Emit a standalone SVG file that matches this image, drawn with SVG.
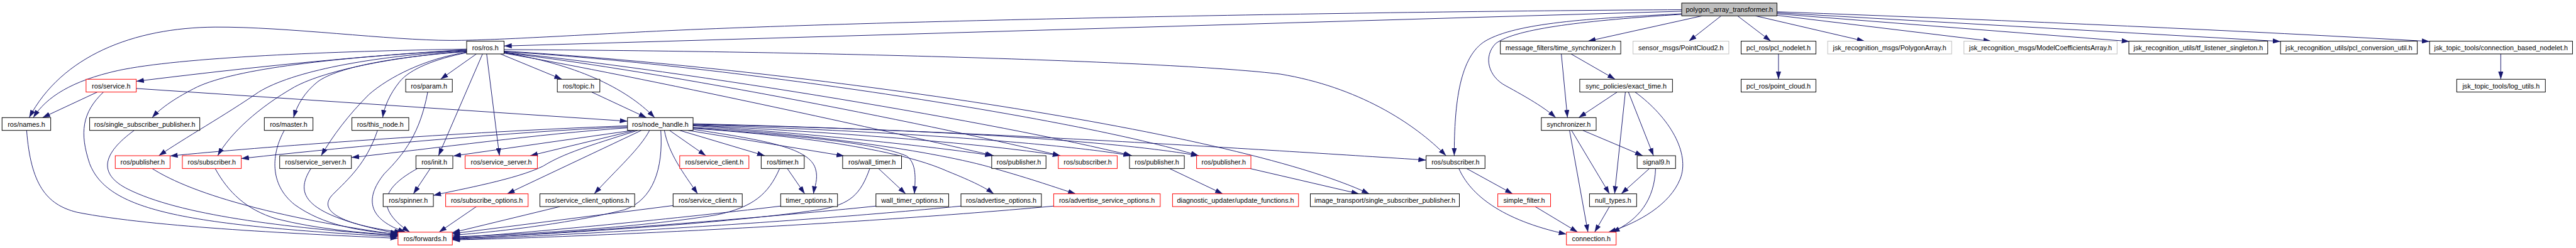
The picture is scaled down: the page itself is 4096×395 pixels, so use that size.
<svg xmlns="http://www.w3.org/2000/svg" width="4096" height="395" viewBox="0 0 4096 395">
<style>
.e{fill:none;stroke:#191970;stroke-width:1.2;marker-end:url(#ah)}
.nb rect{fill:#fff;stroke:#000;stroke-width:1.2}
.nr rect{fill:#fff;stroke:#f00;stroke-width:1.2}
.ng rect{fill:#fff;stroke:#bfbfbf;stroke-width:1.2}
.nm rect{fill:#bfbfbf;stroke:#000;stroke-width:1.2}
text{font-family:"Liberation Sans",Arial,sans-serif;font-size:13.3px;text-anchor:middle;fill:#000}
</style>
<defs>
<marker id="ah" markerUnits="userSpaceOnUse" markerWidth="15" markerHeight="10" refX="15" refY="5" orient="auto"><path d="M0,0 L15,5 L0,10 z" fill="#191970"/></marker>
</defs>
<rect width="4096" height="395" fill="#fff"/>
<g transform="scale(0.8145)">
<g id="edges">
<path class="e" d="M3283,19 C2700,22 1700,40 1260,62 C1050,73 950,79 880,79 C760,79 560,52 420,53 C260,54 120,110 57,230"/>
<path class="e" d="M3283,22 L984,90"/>
<path class="e" d="M3323,31 L3100,80.5"/>
<path class="e" d="M3360,31 L3297,80.5"/>
<path class="e" d="M3392,31 L3457,80.5"/>
<path class="e" d="M3427,31 L3640,80.5"/>
<path class="e" d="M3469,30 L3887,80.5"/>
<path class="e" d="M3469,27 L4157,81"/>
<path class="e" d="M3469,25 L4452,81"/>
<path class="e" d="M3469,23 Q4200,50 4743,81"/>
<path class="e" d="M3283,27 C3100,36 2960,45 2900,80 C2850,110 2839,200 2839,304.5"/>
<path class="e" d="M3283,28 C3100,40 2960,55 2920,85 C2895,110 2905,150 2940,168 C2980,190 3015,210 3037,230"/>
<path class="e" d="M3048,105.5 L3060,230"/>
<path class="e" d="M3067,105.5 L3153,155"/>
<path class="e" d="M3157,180 L3082,230"/>
<path class="e" d="M3173,180 L3152,379"/>
<path class="e" d="M3179,180 L3228,304.5"/>
<path class="e" d="M3192,180 C3260,230 3300,300 3280,350 C3260,400 3200,435 3140,454"/>
<path class="e" d="M3064,255 L3100,454"/>
<path class="e" d="M3068,255 L3142,379"/>
<path class="e" d="M3090,255 L3207,304.5"/>
<path class="e" d="M3220,329.5 L3165,379"/>
<path class="e" d="M3232,329.5 C3230,390 3200,430 3147,454"/>
<path class="e" d="M3142,404 L3113,454"/>
<path class="e" d="M2997,404 L3080,454"/>
<path class="e" d="M2863,329.5 L2953,379"/>
<path class="e" d="M2848,329.5 C2870,380 2930,430 3058,458"/>
<path class="e" d="M3472,105.5 L3472,155"/>
<path class="e" d="M4882,105.5 L4882,155"/>
<path class="e" d="M911,96 C650,100 350,112 230,138 C140,158 90,190 65,230"/>
<path class="e" d="M911,97 C700,110 500,130 266,159"/>
<path class="e" d="M911,98 C650,112 460,135 385,170 C345,190 315,210 297,230"/>
<path class="e" d="M911,99 C720,110 570,140 505,180 C440,225 360,270 310,304.5"/>
<path class="e" d="M911,100 C780,110 640,135 575,170 C505,210 450,260 425,304.5"/>
<path class="e" d="M911,101 C780,110 660,130 620,160 C595,180 580,205 573,230"/>
<path class="e" d="M911,102 C830,115 760,150 720,185 C680,225 650,265 627,304.5"/>
<path class="e" d="M911,103 C850,115 800,135 780,160 C760,185 750,210 747,230"/>
<path class="e" d="M930,105.5 L860,155"/>
<path class="e" d="M942,105.5 L856,304.5"/>
<path class="e" d="M950,105.5 L975,304.5"/>
<path class="e" d="M977,105.5 L1097,155"/>
<path class="e" d="M984,103 C1120,125 1220,170 1278,230"/>
<path class="e" d="M1155,180 L1262,230"/>
<path class="e" d="M984,97 C1600,100 2300,120 2500,145 C2650,170 2760,240 2823,304.5"/>
<path class="e" d="M984,100 C1500,130 2400,250 2673,379"/>
<path class="e" d="M984,101 C1400,125 2100,230 2340,304.5"/>
<path class="e" d="M984,102 C1350,140 1950,240 2210,304.5"/>
<path class="e" d="M984,103 C1300,140 1850,250 2070,304.5"/>
<path class="e" d="M984,104 C1250,150 1750,260 1940,304.5"/>
<path class="e" d="M1225,246 C900,258 500,288 332,305"/>
<path class="e" d="M1225,248 C1000,258 700,285 471,310"/>
<path class="e" d="M1225,250 C1050,262 850,290 686,308"/>
<path class="e" d="M1235,255 L885,305"/>
<path class="e" d="M1240,255 L1035,304.5"/>
<path class="e" d="M1245,255 C1150,285 1100,300 1060,325 C1010,350 900,370 846,382"/>
<path class="e" d="M1252,255 L990,379"/>
<path class="e" d="M1268,255 C1250,290 1205,330 1160,379"/>
<path class="e" d="M1290,255 C1295,330 1275,390 1220,410 C1100,440 950,455 883,460"/>
<path class="e" d="M1307,255 L1378,304.5"/>
<path class="e" d="M1297,255 C1305,300 1335,340 1362,379"/>
<path class="e" d="M1327,255 L1493,304.5"/>
<path class="e" d="M1343,255 L1648,305"/>
<path class="e" d="M1353,253 C1500,275 1580,290 1592,330 C1598,350 1590,365 1588,379"/>
<path class="e" d="M1353,250 C1500,262 1700,275 1770,305 C1790,320 1787,350 1785,379"/>
<path class="e" d="M1353,251 C1550,265 1750,290 1850,335 C1900,355 1925,368 1940,379"/>
<path class="e" d="M1353,249 C1600,262 1850,300 1950,332 C2030,355 2070,370 2100,379"/>
<path class="e" d="M1353,246 C1600,262 1850,290 1938,304.5"/>
<path class="e" d="M1353,245 C1700,262 1950,285 2070,304.5"/>
<path class="e" d="M1353,244 C1800,258 2100,285 2208,304.5"/>
<path class="e" d="M1353,243 C1900,255 2200,280 2340,304.5"/>
<path class="e" d="M1353,242 C1900,255 2500,295 2784,313"/>
<path class="e" d="M266,173 L1225,237"/>
<path class="e" d="M190,180 L83,230"/>
<path class="e" d="M202,180 C160,220 155,260 175,320 C210,410 350,440 777,463"/>
<path class="e" d="M52,255 C60,360 90,400 150,415 C300,445 600,458 777,466"/>
<path class="e" d="M262,255 C200,300 190,340 250,370 C350,420 550,445 777,461"/>
<path class="e" d="M297,329.5 C360,370 500,420 777,459"/>
<path class="e" d="M420,329.5 C445,375 480,410 540,428 C620,448 700,455 777,460"/>
<path class="e" d="M555,255 C530,300 525,360 575,400 C630,440 700,452 777,458"/>
<path class="e" d="M607,329.5 C575,380 590,420 777,457"/>
<path class="e" d="M737,255 C715,320 680,350 650,380 C610,420 700,445 785,454"/>
<path class="e" d="M835,180 C820,260 790,300 750,340 C710,390 720,430 792,454"/>
<path class="e" d="M815,329.5 C760,360 720,400 800,454"/>
<path class="e" d="M840,329.5 L807,379"/>
<path class="e" d="M930,404 L857,454"/>
<path class="e" d="M1093,404 L883,455"/>
<path class="e" d="M1314,402 L883,457"/>
<path class="e" d="M1522,329.5 C1500,380 1470,405 1400,420 C1250,445 1000,460 883,463"/>
<path class="e" d="M1524,403 C1300,430 1000,458 883,465"/>
<path class="e" d="M1698,329.5 C1680,380 1660,400 1600,410 C1400,440 1000,462 883,466"/>
<path class="e" d="M1710,403 C1400,435 1000,462 883,467"/>
<path class="e" d="M1876,403 C1500,440 1000,465 883,468"/>
<path class="e" d="M2057,403 C1600,445 1000,468 883,469"/>
<path class="e" d="M1537,329.5 L1571,379"/>
<path class="e" d="M1715,329.5 L1768,379"/>
<path class="e" d="M2283,329.5 L2387,379"/>
<path class="e" d="M2440,329.5 L2653,379"/>
</g>
<g id="n0" class="nm"><rect x="3283" y="6" width="186" height="25"/><text x="3376" y="23.5">polygon_array_transformer.h</text></g>
<g id="n1" class="nb"><rect x="911" y="80.5" width="73" height="25"/><text x="947.5" y="98">ros/ros.h</text></g>
<g id="n2" class="nb"><rect x="2929" y="80.5" width="235" height="25"/><text x="3046.5" y="98">message_filters/time_synchronizer.h</text></g>
<g id="n3" class="ng"><rect x="3188" y="80.5" width="187" height="25"/><text x="3281.5" y="98">sensor_msgs/PointCloud2.h</text></g>
<g id="n4" class="nb"><rect x="3399" y="80.5" width="146" height="25"/><text x="3472" y="98">pcl_ros/pcl_nodelet.h</text></g>
<g id="n5" class="ng"><rect x="3568" y="80.5" width="242" height="25"/><text x="3689" y="98">jsk_recognition_msgs/PolygonArray.h</text></g>
<g id="n6" class="ng"><rect x="3834" y="80.5" width="299" height="25"/><text x="3983.5" y="98">jsk_recognition_msgs/ModelCoefficientsArray.h</text></g>
<g id="n7" class="nb"><rect x="4156" y="80.5" width="271" height="25"/><text x="4291.5" y="98">jsk_recognition_utils/tf_listener_singleton.h</text></g>
<g id="n8" class="nb"><rect x="4452" y="80.5" width="267" height="25"/><text x="4585.5" y="98">jsk_recognition_utils/pcl_conversion_util.h</text></g>
<g id="n9" class="nb"><rect x="4743" y="80.5" width="279" height="25"/><text x="4882.5" y="98">jsk_topic_tools/connection_based_nodelet.h</text></g>
<g id="n10" class="nr"><rect x="168" y="155" width="98" height="25"/><text x="217" y="172.5">ros/service.h</text></g>
<g id="n11" class="nb"><rect x="792" y="155" width="91" height="25"/><text x="837.5" y="172.5">ros/param.h</text></g>
<g id="n12" class="nb"><rect x="1088" y="155" width="83" height="25"/><text x="1129.5" y="172.5">ros/topic.h</text></g>
<g id="n13" class="nb"><rect x="3084" y="155" width="181" height="25"/><text x="3174.5" y="172.5">sync_policies/exact_time.h</text></g>
<g id="n14" class="nb"><rect x="3399" y="155" width="146" height="25"/><text x="3472" y="172.5">pcl_ros/point_cloud.h</text></g>
<g id="n15" class="nb"><rect x="4796" y="155" width="173" height="25"/><text x="4882.5" y="172.5">jsk_topic_tools/log_utils.h</text></g>
<g id="n16" class="nb"><rect x="4" y="230" width="95" height="25"/><text x="51.5" y="247.5">ros/names.h</text></g>
<g id="n17" class="nb"><rect x="175" y="230" width="215" height="25"/><text x="282.5" y="247.5">ros/single_subscriber_publisher.h</text></g>
<g id="n18" class="nb"><rect x="516" y="230" width="95" height="25"/><text x="563.5" y="247.5">ros/master.h</text></g>
<g id="n19" class="nb"><rect x="687" y="230" width="111" height="25"/><text x="742.5" y="247.5">ros/this_node.h</text></g>
<g id="n20" class="nb"><rect x="1225" y="230" width="128" height="25"/><text x="1289" y="247.5">ros/node_handle.h</text></g>
<g id="n21" class="nb"><rect x="3009" y="230" width="107" height="25"/><text x="3062.5" y="247.5">synchronizer.h</text></g>
<g id="n22" class="nr"><rect x="225" y="304.5" width="107" height="25"/><text x="278.5" y="322">ros/publisher.h</text></g>
<g id="n23" class="nr"><rect x="356" y="304.5" width="115" height="25"/><text x="413.5" y="322">ros/subscriber.h</text></g>
<g id="n24" class="nb"><rect x="546" y="304.5" width="140" height="25"/><text x="616" y="322">ros/service_server.h</text></g>
<g id="n25" class="nb"><rect x="812" y="304.5" width="72" height="25"/><text x="848" y="322">ros/init.h</text></g>
<g id="n26" class="nr"><rect x="908" y="304.5" width="141" height="25"/><text x="978.5" y="322">ros/service_server.h</text></g>
<g id="n27" class="nr"><rect x="1327" y="304.5" width="135" height="25"/><text x="1394.5" y="322">ros/service_client.h</text></g>
<g id="n28" class="nb"><rect x="1486" y="304.5" width="84" height="25"/><text x="1528" y="322">ros/timer.h</text></g>
<g id="n29" class="nb"><rect x="1645" y="304.5" width="115" height="25"/><text x="1702.5" y="322">ros/wall_timer.h</text></g>
<g id="n30" class="nb"><rect x="1936" y="304.5" width="106" height="25"/><text x="1989" y="322">ros/publisher.h</text></g>
<g id="n31" class="nr"><rect x="2066" y="304.5" width="115" height="25"/><text x="2123.5" y="322">ros/subscriber.h</text></g>
<g id="n32" class="nb"><rect x="2205" y="304.5" width="107" height="25"/><text x="2258.5" y="322">ros/publisher.h</text></g>
<g id="n33" class="nr"><rect x="2336" y="304.5" width="106" height="25"/><text x="2389" y="322">ros/publisher.h</text></g>
<g id="n34" class="nb"><rect x="2784" y="304.5" width="115" height="25"/><text x="2841.5" y="322">ros/subscriber.h</text></g>
<g id="n35" class="nb"><rect x="3196" y="304.5" width="75" height="25"/><text x="3233.5" y="322">signal9.h</text></g>
<g id="n36" class="nb"><rect x="748" y="379" width="98" height="25"/><text x="797" y="396.5">ros/spinner.h</text></g>
<g id="n37" class="nr"><rect x="870" y="379" width="161" height="25"/><text x="950.5" y="396.5">ros/subscribe_options.h</text></g>
<g id="n38" class="nb"><rect x="1054" y="379" width="185" height="25"/><text x="1146.5" y="396.5">ros/service_client_options.h</text></g>
<g id="n39" class="nb"><rect x="1314" y="379" width="135" height="25"/><text x="1381.5" y="396.5">ros/service_client.h</text></g>
<g id="n40" class="nb"><rect x="1524" y="379" width="111" height="25"/><text x="1579.5" y="396.5">timer_options.h</text></g>
<g id="n41" class="nb"><rect x="1710" y="379" width="142" height="25"/><text x="1781" y="396.5">wall_timer_options.h</text></g>
<g id="n42" class="nb"><rect x="1876" y="379" width="157" height="25"/><text x="1954.5" y="396.5">ros/advertise_options.h</text></g>
<g id="n43" class="nr"><rect x="2057" y="379" width="208" height="25"/><text x="2161" y="396.5">ros/advertise_service_options.h</text></g>
<g id="n44" class="nr"><rect x="2289" y="379" width="246" height="25"/><text x="2412" y="396.5">diagnostic_updater/update_functions.h</text></g>
<g id="n45" class="nb"><rect x="2558" y="379" width="291" height="25"/><text x="2703.5" y="396.5">image_transport/single_subscriber_publisher.h</text></g>
<g id="n46" class="nr"><rect x="2924" y="379" width="103" height="25"/><text x="2975.5" y="396.5">simple_filter.h</text></g>
<g id="n47" class="nb"><rect x="3103" y="379" width="92" height="25"/><text x="3149" y="396.5">null_types.h</text></g>
<g id="n48" class="nr"><rect x="777" y="454" width="106" height="25"/><text x="830" y="471.5">ros/forwards.h</text></g>
<g id="n49" class="nr"><rect x="3058" y="454" width="97" height="25"/><text x="3106.5" y="471.5">connection.h</text></g>
</g>
</svg>
